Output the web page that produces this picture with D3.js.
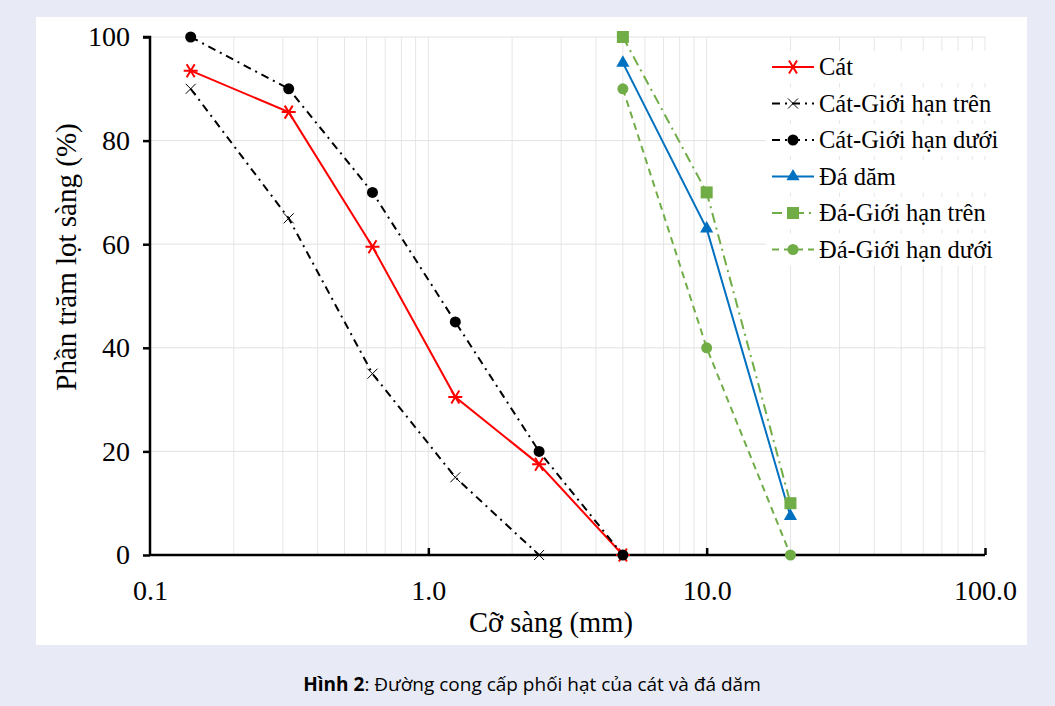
<!DOCTYPE html>
<html>
<head>
<meta charset="utf-8">
<script src="https://cdn.jsdelivr.net/npm/d3@7.9.0/dist/d3.min.js"></script>
<style>
  body { margin: 0; background: #e8ebf5; }
  svg { display: block; }
</style>
</head>
<body>
<svg id="chart" width="1055" height="706"></svg>
<script>
const sieves = [0.14, 0.315, 0.63, 1.25, 2.5, 5, 10, 20];

const cat = [93.5, 85.5, 59.5, 30.5, 17.5, 0];
const catUpper = [90, 65, 35, 15, 0];
const catLower = [100, 90, 70, 45, 20, 0];
const daSizes = [5, 10, 20];
const da = [95, 63, 7.5];
const daUpper = [100, 70, 10];
const daLower = [90, 40, 0];

const xTicks = [0.1, 1, 10, 100];
const yTicks = [0, 20, 40, 60, 80, 100];

const series = [
  { name: 'Cát', x: sieves, y: cat, color: '#ff0000', dash: null, marker: 'asterisk' },
  { name: 'Cát-Giới hạn trên', x: sieves, y: catUpper, color: '#000', dash: '8,5,2,5', marker: 'cross' },
  { name: 'Cát-Giới hạn dưới', x: sieves, y: catLower, color: '#000', dash: '8,5,2,5', marker: 'circle' },
  { name: 'Đá dăm', x: daSizes, y: da, color: '#0070c0', dash: null, marker: 'triangle' },
  { name: 'Đá-Giới hạn trên', x: daSizes, y: daUpper, color: '#70ad47', dash: '10,5,2,5', marker: 'square' },
  { name: 'Đá-Giới hạn dưới', x: daSizes, y: daLower, color: '#70ad47', dash: '7,5', marker: 'circle' }
];

const svg = d3.select('#chart');

// white panel
svg.append('rect').attr('x', 36).attr('y', 17).attr('width', 991).attr('height', 628).attr('fill', '#fff');

const x = d3.scaleLog().domain([0.1, 100]).range([150, 985]);
const y = d3.scaleLinear().domain([0, 100]).range([555, 37]);

// grid
let minor = [];
[0.1, 1, 10].forEach(d => { for (let k = 2; k <= 10; k++) minor.push(d * k); });
svg.append('g').selectAll('line.v').data(minor).join('line')
  .attr('x1', d => x(d)).attr('x2', d => x(d))
  .attr('y1', y(0)).attr('y2', y(100))
  .attr('stroke', '#e6e6e6').attr('stroke-width', 1);
svg.append('g').selectAll('line.h').data(yTicks.slice(1)).join('line')
  .attr('x1', x(0.1)).attr('x2', x(100))
  .attr('y1', d => y(d)).attr('y2', d => y(d))
  .attr('stroke', '#e2e2e2').attr('stroke-width', 1);

// axes
const font = '"Liberation Serif", "Times New Roman", serif';
const yAxis = svg.append('g').attr('transform', `translate(${x(0.1)},0)`)
  .call(d3.axisLeft(y).tickValues(yTicks).tickSize(7).tickPadding(13));
const xAxis = svg.append('g').attr('transform', `translate(0,${y(0)})`)
  .call(d3.axisBottom(x).tickValues(xTicks).tickSize(-7).tickPadding(25)
    .tickFormat(d3.format('.1f')));
[xAxis, yAxis].forEach(a => {
  a.attr('font-size', null).attr('font-family', null);
  a.select('.domain').attr('stroke', '#000').attr('stroke-width', 2.5);
  a.selectAll('.tick line').attr('stroke', '#000').attr('stroke-width', 2.5);
  a.selectAll('text').style('font-family', font).style('font-size', '28px').attr('fill', '#000');
});
xAxis.select('.domain').attr('d', `M${x(0.1)},0H${x(100)}`);
xAxis.selectAll('.tick').filter(d => d === 0.1).select('line').remove();
yAxis.select('.domain').attr('d', `M-7,${y(100)}H0V${y(0)}`);

svg.append('text').attr('x', 551).attr('y', 632).attr('text-anchor', 'middle')
  .style('font-family', font).style('font-size', '28.5px').text('Cỡ sàng (mm)');
svg.append('text').attr('transform', `translate(76,257) rotate(-90)`).attr('text-anchor', 'middle')
  .style('font-family', font).style('font-size', '29px').text('Phần trăm lọt sàng (%)');

function drawMarker(g, type, color) {
  if (type === 'asterisk') {
    g.append('path').attr('d', 'M-7,0H7M-4,-6.5L4,6.5M4,-6.5L-4,6.5')
      .attr('stroke', color).attr('stroke-width', 2).attr('fill', 'none');
  } else if (type === 'cross') {
    g.append('path').attr('d', 'M-5,-5L5,5M5,-5L-5,5')
      .attr('stroke', color).attr('stroke-width', 1).attr('fill', 'none');
  } else if (type === 'circle') {
    g.append('circle').attr('r', 5.5).attr('fill', color);
  } else if (type === 'triangle') {
    g.append('path').attr('d', d3.symbol(d3.symbolTriangle, 75)()).attr('fill', color);
  } else if (type === 'square') {
    g.append('rect').attr('x', -6).attr('y', -6).attr('width', 12).attr('height', 12).attr('fill', color);
  }
}

const line = d3.line().x(d => x(d[0])).y(d => y(d[1]));
series.forEach(s => {
  const pts = s.y.map((v, i) => [s.x[i], v]);
  svg.append('path').datum(pts).attr('d', line)
    .attr('fill', 'none').attr('stroke', s.color).attr('stroke-width', 2)
    .attr('stroke-dasharray', s.dash);
  pts.forEach(p => {
    const g = svg.append('g').attr('transform', `translate(${x(p[0])},${y(p[1])})`);
    drawMarker(g, s.marker, s.color);
  });
});

// legend
const legend = svg.append('g').attr('transform', 'translate(772,67)');
series.forEach((s, i) => {
  const g = legend.append('g').attr('transform', `translate(0,${i * 36.5})`);
  g.append('rect').attr('x', -6).attr('y', -16).attr('width', 240).attr('height', 32).attr('fill', '#fff');
  g.append('line').attr('x1', 0).attr('x2', 42).attr('y1', 0).attr('y2', 0)
    .attr('stroke', s.color).attr('stroke-width', 2).attr('stroke-dasharray', s.dash);
  const m = g.append('g').attr('transform', 'translate(21,0)');
  drawMarker(m, s.marker, s.color);
  g.append('text').attr('x', 47).attr('y', 8).style('font-family', font).style('font-size', '24.5px')
    .text(s.name);
});

// caption
svg.append('text').attr('x', 532).attr('y', 691).attr('text-anchor', 'middle')
  .style('font-family', '"Open Sans", "Noto Sans", sans-serif').style('font-size', '19px')
  .call(t => {
    t.append('tspan').attr('font-weight', 'bold').text('Hình 2');
    t.append('tspan').text(': Đường cong cấp phối hạt của cát và đá dăm');
  });
</script>
</body>
</html>
